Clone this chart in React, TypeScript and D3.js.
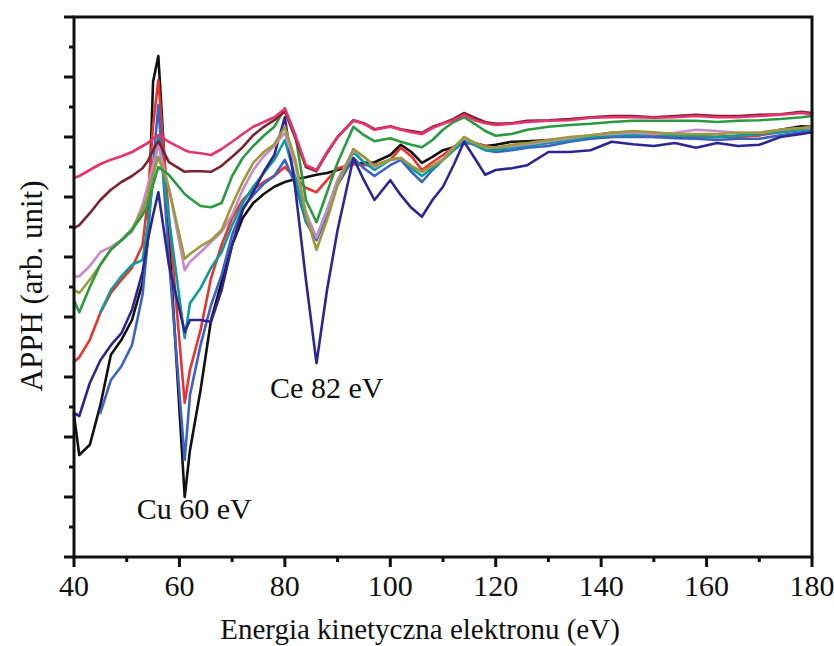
import React from "react";
import * as d3 from "d3";

// Kinetic energy grid (eV)
const energy = [40, 41, 43, 45, 47, 49, 51, 53, 54, 55, 56, 58, 61, 62, 64, 66, 68, 70, 72, 74, 76, 78, 80, 82, 84, 86, 88, 90, 93, 95, 97, 100, 102, 104, 106, 108, 110, 112, 114, 116, 118, 120, 123, 126, 130, 134, 138, 142, 146, 150, 154, 158, 162, 166, 170, 174, 178, 180];

// APPH (arb. unit)
const seriesBlack = [23.7, 17, 18.7, 25.3, 33.7, 36.2, 39.5, 45.7, 52.8, 79.2, 83.5, 53.7, 10, 17.8, 27.8, 39.5, 45.8, 52, 56.5, 59, 60.5, 61.7, 62.5, 63, 63.3, 63.7, 64, 64.5, 65.5, 65.7, 65.8, 67, 68.7, 67.5, 65.7, 66.7, 67.8, 68.3, 69, 69, 68.5, 68.7, 69.2, 69.3, 69.5, 69.7, 70.2, 70.7, 70.8, 70, 70, 70, 70, 70.2, 70.3, 71.2, 71.8, 71.7];
const seriesRed = [32.5, 33.3, 36.2, 40.7, 44, 46.2, 48.2, 52, 59.5, 72, 79.5, 56.7, 25.7, 31.2, 37.8, 46.5, 52, 56.5, 59.5, 61.2, 62.5, 63.5, 65, 63.2, 61.5, 60.8, 62.8, 64.8, 65.5, 65.3, 65.3, 66.2, 68.2, 66.8, 64.5, 65.8, 67, 68.3, 69.5, 69, 68.5, 68.2, 68.3, 68.7, 69, 69.5, 69.8, 70, 70.2, 70.3, 70.2, 70, 70, 70, 70.3, 70.8, 71.2, 71.3];
const seriesBlue = [null, null, null, 24, 29.5, 31.8, 35.3, 43.7, 52.8, 65.3, 75.3, 49.8, 16.2, 27, 35.3, 42, 47, 53.7, 58.2, 60.3, 62.2, 63.5, 66.2, 62, 55.8, 52.8, 57, 62, 66.5, 64.8, 63.5, 65.3, 66.2, 64.2, 62.5, 64.5, 66.2, 67.8, 69.2, 68.7, 67.8, 67.5, 67.8, 68.2, 68.5, 69.2, 69.7, 70, 70, 70, 69.8, 69.7, 69.5, 69.7, 69.7, 70.3, 70.8, 71];
const seriesTeal = [null, null, null, 40.8, 44.5, 46.8, 48.7, 49.5, 55.3, 62.8, 70.3, 56.5, 36.5, 42.3, 44.8, 48.2, 50.8, 55.3, 59, 61.7, 64, 66.2, 69.5, 63.2, 56.2, 53.3, 57.8, 62.8, 67.5, 65.8, 64.5, 66.2, 66.5, 64.8, 63.5, 64.8, 66.2, 67.8, 69.5, 68.7, 67.8, 67.8, 68.2, 68.5, 69, 69.5, 70, 70.3, 70.3, 70.5, 70.2, 70.2, 70, 70.2, 70.5, 70.8, 71.2, 71.3];
const seriesIndigo = [24, 23.5, 29, 32.8, 35.3, 37.3, 41.2, 47.5, 52.8, 57, 60.8, 48.7, 37.5, 39.5, 39.5, 39.2, 44.5, 52, 57.8, 60.8, 64.2, 67, 73.3, 61.2, 46.2, 32.3, 44.5, 54.5, 66.5, 62.8, 59.5, 62.8, 60.3, 58.2, 56.7, 59.5, 61.7, 65.3, 69.2, 66.5, 63.7, 64.5, 64.8, 65.3, 67.5, 67.5, 67.8, 69.2, 68.8, 68.5, 69, 68.2, 69, 68.5, 68.7, 70, 70.5, 70.8];
const seriesViolet = [46.7, 46.8, 48.5, 50.8, 51.7, 52.8, 54.2, 58.7, 62, 65.3, 68.7, 61.5, 47.8, 49.2, 50.8, 52.5, 54.2, 57, 61.2, 64.5, 66.8, 68.5, 70.7, 65.3, 57.5, 53.2, 57.8, 62.8, 67.8, 66.7, 65, 66.2, 66.5, 65.2, 64.2, 65.2, 66.3, 68.3, 69.8, 69, 68.3, 68.2, 68.5, 68.8, 69.3, 69.8, 70.3, 70.5, 70.7, 70.5, 70.7, 71.2, 71, 70.7, 70.7, 71.2, 71.5, 71.5];
const seriesOlive = [44.5, 44, 46.2, 48.7, 51.3, 52.8, 54.7, 57.8, 60.3, 63.7, 66.7, 61.5, 49.7, 50.5, 51.8, 52.8, 54.5, 58.7, 62.5, 65.7, 67.5, 68.8, 71.7, 66.2, 57, 51.2, 56.2, 62, 68, 66.7, 65.2, 66.2, 66.5, 65.2, 64.2, 65.2, 66.2, 68.2, 70, 69, 68.3, 68.2, 68.7, 69, 69.5, 70, 70.3, 70.7, 71, 70.8, 70.5, 70.5, 70.5, 70.7, 70.7, 71.2, 71.5, 71.7];
const seriesGreen = [42.8, 40.8, 45, 48.7, 51.2, 52.8, 54.5, 57, 58.7, 62, 65, 63.7, 60.5, 59.8, 58.5, 58.3, 59, 63.5, 66.5, 68.5, 70.2, 71.7, 74.8, 70.3, 59.5, 55.8, 60.8, 65.7, 71.7, 70.3, 69.3, 69.8, 69.2, 68.7, 68.3, 69.5, 71.2, 72.5, 73.3, 72.2, 71, 70.2, 70.5, 71.2, 71.7, 72, 72.2, 72.5, 72.7, 72.7, 72.7, 72.7, 72.5, 72.7, 72.8, 73, 73.3, 73.5];
const seriesMaroon = [54.8, 55.3, 57.3, 59.5, 61.2, 62.5, 63.5, 64.8, 66, 67.8, 69.3, 65.8, 64.2, 64.3, 64.3, 64.2, 65.2, 66.7, 68.3, 70.3, 71.7, 72.8, 74.3, 69.8, 65, 64.3, 67.3, 70, 72.8, 72.3, 71.3, 71.8, 71.3, 71, 70.7, 71.7, 72.3, 73, 74, 73.2, 72.5, 72.2, 72.3, 72.7, 72.8, 73, 73.3, 73.5, 73.5, 73.3, 73.5, 73.7, 73.5, 73.5, 73.7, 73.8, 74.2, 74];
const seriesPink = [63.2, 63.5, 64.5, 65.5, 66.2, 66.8, 67.5, 68.5, 69, 69.7, 70.3, 69.2, 67.8, 67.5, 67.3, 67, 68, 69.2, 70.5, 71.7, 72.5, 73.3, 74.7, 70.3, 65.3, 64.5, 67.5, 70, 72.7, 72.2, 71.2, 71.7, 71.2, 70.8, 70.5, 71.5, 72.2, 72.8, 73.7, 72.8, 72.3, 72, 72.2, 72.5, 72.7, 72.8, 73.2, 73.3, 73.3, 73.2, 73.3, 73.5, 73.3, 73.3, 73.5, 73.7, 74, 73.8];

const xTickLabels = [40, 60, 80, 100, 120, 140, 160, 180];

const annotations = [
  { text: "Cu 60 eV", e: 51.9, v: 6.3 },
  { text: "Ce 82 eV", e: 77.2, v: 26.5 },
];

const series = [
  { name: "black", color: "#111111", values: seriesBlack },
  { name: "red", color: "#e8342c", values: seriesRed },
  { name: "blue", color: "#3d62c6", values: seriesBlue },
  { name: "teal", color: "#0c9c9c", values: seriesTeal },
  { name: "indigo", color: "#2e2690", values: seriesIndigo },
  { name: "violet", color: "#c78bc9", values: seriesViolet },
  { name: "olive", color: "#9b9a3a", values: seriesOlive },
  { name: "green", color: "#2a9a40", values: seriesGreen },
  { name: "maroon", color: "#7c2332", values: seriesMaroon },
  { name: "pink", color: "#e5346f", values: seriesPink },
];

const FONT = "'Liberation Serif', 'Times New Roman', serif";

export default function App() {
  const W = 834;
  const H = 646;
  const left = 74, right = 812, top = 17, bottom = 557;
  const x = d3.scaleLinear().domain([40, 180]).range([left, right]);
  const y = d3.scaleLinear().domain([0, 90]).range([bottom, top]);

  const line = d3
    .line<number | null>()
    .defined((v) => v !== null)
    .x((_, i) => x(energy[i]))
    .y((v) => y(v as number));

  const xMajor = xTickLabels;
  const xMinor = d3.range(50, 180, 20);
  const yMajor = d3.range(0, 91, 10);
  const yMinor = d3.range(5, 90, 10);

  return (
    <svg
      width={W}
      height={H}
      style={{ position: "absolute", left: 0, top: 0, background: "#fff" }}
      fontFamily={FONT}
    >
      <rect x={0} y={0} width={W} height={H} fill="#fff" />
      {series.map((s) => (
        <path
          key={s.name}
          d={line(s.values) || ""}
          fill="none"
          stroke={s.color}
          strokeWidth={2.6}
          strokeLinejoin="round"
          strokeLinecap="round"
        />
      ))}
      {/* frame */}
      <rect x={left} y={top} width={right - left} height={bottom - top} fill="none" stroke="#111" strokeWidth={3} />
      {/* x ticks */}
      {xMajor.map((t) => (
        <line key={"xM" + t} x1={x(t)} x2={x(t)} y1={bottom} y2={bottom + 10} stroke="#111" strokeWidth={3} />
      ))}
      {xMinor.map((t) => (
        <line key={"xm" + t} x1={x(t)} x2={x(t)} y1={bottom} y2={bottom + 5} stroke="#111" strokeWidth={3} />
      ))}
      {xMajor.map((t) => (
        <text key={"xl" + t} x={x(t)} y={bottom + 39} textAnchor="middle" fontSize={30} fill="#111">
          {t}
        </text>
      ))}
      {/* y ticks */}
      {yMajor.map((t) => (
        <line key={"yM" + t} x1={left - 10} x2={left} y1={y(t)} y2={y(t)} stroke="#111" strokeWidth={3} />
      ))}
      {yMinor.map((t) => (
        <line key={"ym" + t} x1={left - 5} x2={left} y1={y(t)} y2={y(t)} stroke="#111" strokeWidth={3} />
      ))}
      {/* axis titles */}
      <text x={420} y={639} textAnchor="middle" fontSize={29} fill="#111">
        Energia kinetyczna elektronu (eV)
      </text>
      <text
        transform={`translate(42, 286) rotate(-90)`}
        textAnchor="middle"
        fontSize={31}
        fill="#111"
      >
        APPH (arb. unit)
      </text>
      {annotations.map((a) => (
        <text key={a.text} x={x(a.e)} y={y(a.v)} fontSize={30} fill="#111">
          {a.text}
        </text>
      ))}
    </svg>
  );
}
